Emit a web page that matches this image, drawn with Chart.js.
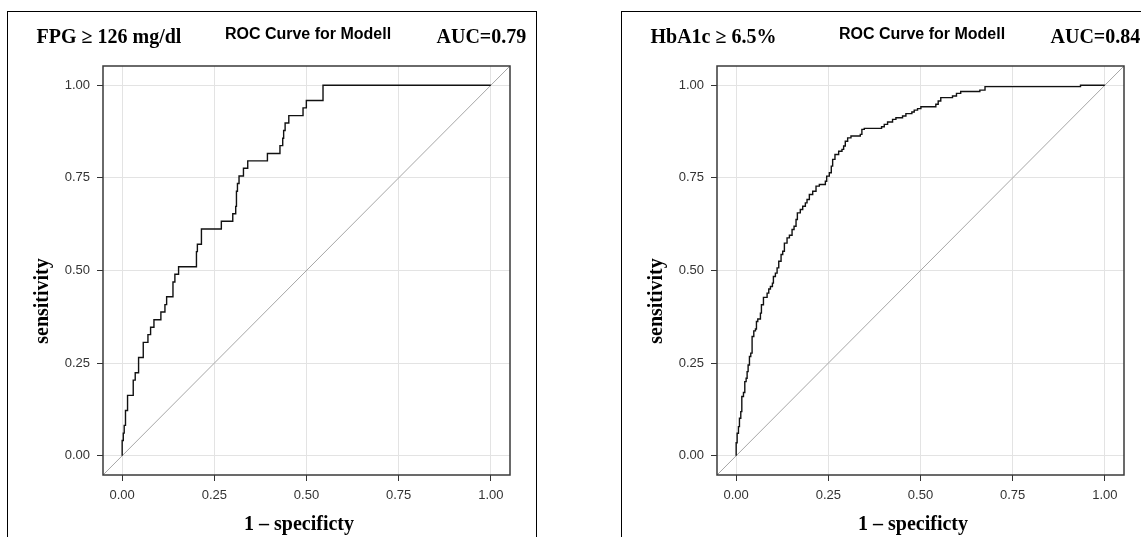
<!DOCTYPE html>
<html>
<head>
<meta charset="utf-8">
<script src="https://cdn.jsdelivr.net/npm/chart.js@4.4.1/dist/chart.umd.min.js"></script>
<style>
  html, body { margin: 0; padding: 0; background: #fff; }
  body { width: 1141px; height: 537px; overflow: hidden; position: relative; }
  .panel { position: absolute; top: 11px; width: 528px; height: 540px; border: 1px solid #000; overflow: hidden; background: #fff; }
  .plot { position: relative; width: 528px; height: 525px; }
</style>
</head>
<body>
<div class="panel" style="left:7px"><div class="plot"><canvas id="rocFpg"></canvas></div></div>
<div class="panel" style="left:621px"><div class="plot"><canvas id="rocHba"></canvas></div></div>
<script>
// ROC points (1 - specificity, sensitivity) for the FPG model
const fpgFpr = [0, 0, 0.003, 0.0055, 0.009, 0.0146, 0.030, 0.0354, 0.0445, 0.0572, 0.0699, 0.0771, 0.0862,
  0.105, 0.116, 0.1206, 0.1378, 0.143, 0.153, 0.2015, 0.204, 0.215, 0.269, 0.300, 0.308, 0.310, 0.3127,
  0.317, 0.329, 0.3406, 0.394, 0.428, 0.4355, 0.438, 0.442, 0.452, 0.4906, 0.4996, 0.5448, 1.0];
const fpgTpr = [0, 0.041, 0.061, 0.082, 0.122, 0.163, 0.204, 0.224, 0.265, 0.306, 0.327, 0.347, 0.367,
  0.388, 0.408, 0.429, 0.469, 0.490, 0.510, 0.551, 0.571, 0.612, 0.633, 0.653, 0.673, 0.714, 0.735,
  0.755, 0.776, 0.796, 0.816, 0.837, 0.857, 0.878, 0.898, 0.918, 0.939, 0.959, 1.0, 1.0];

// ROC points (1 - specificity, sensitivity) for the HbA1c model
const hbaFpr = [0, 0, 0.0026, 0.0062, 0.0089, 0.0125, 0.0153, 0.0198, 0.0234, 0.027, 0.0297, 0.0324, 0.036,
  0.0396, 0.0432, 0.0478, 0.0523, 0.055, 0.0586, 0.0658, 0.0685, 0.074, 0.0839, 0.0884, 0.0929, 0.0983,
  0.101, 0.1064, 0.111, 0.1155, 0.1218, 0.1263, 0.1308, 0.138, 0.1444, 0.1516, 0.157, 0.1624, 0.166,
  0.174, 0.1805, 0.1877, 0.1922, 0.1985, 0.2076, 0.2166, 0.2256, 0.2419, 0.2455, 0.2527, 0.258, 0.2617,
  0.268, 0.278, 0.287, 0.2915, 0.296, 0.3024, 0.3114, 0.3367, 0.341, 0.3475, 0.3944, 0.4017, 0.4107,
  0.4242, 0.4333, 0.4513, 0.4604, 0.4766, 0.483, 0.492, 0.501, 0.5416, 0.548, 0.555, 0.5868, 0.5976,
  0.609, 0.661, 0.675, 0.934, 1.0];
const hbaTpr = [0, 0.035, 0.0605, 0.0785, 0.101, 0.119, 0.160, 0.1705, 0.200, 0.209, 0.227, 0.245, 0.268,
  0.277, 0.322, 0.337, 0.342, 0.3625, 0.369, 0.385, 0.4076, 0.4275, 0.439, 0.450, 0.457, 0.466,
  0.484, 0.493, 0.507, 0.525, 0.543, 0.552, 0.574, 0.588, 0.595, 0.6105, 0.6195, 0.6375, 0.6556,
  0.6646, 0.6736, 0.6826, 0.6916, 0.705, 0.714, 0.7277, 0.732, 0.741, 0.7548, 0.7638, 0.7818, 0.800,
  0.813, 0.822, 0.827, 0.836, 0.849, 0.858, 0.863, 0.8675, 0.881, 0.8837, 0.888, 0.8945, 0.9008,
  0.908, 0.9125, 0.917, 0.9234, 0.928, 0.933, 0.937, 0.942, 0.9486, 0.9576, 0.9667, 0.971, 0.978,
  0.983, 0.987, 0.9964, 1.0, 1.0];

const tickValues = [0, 0.25, 0.5, 0.75, 1];
const axisRange = [-0.052, 1.052];
const panelLabels = ['FPG \u2265 126 mg/dl', 'HbA1c \u2265 6.5%'];
const aucValues = [0.79, 0.84];
const chartTitle = 'ROC Curve for Modell';
const xTitle = '1 \u2013 specificty';
const yTitle = 'sensitivity';

const SERIF = '"Liberation Serif", "Times New Roman", serif';
const SANS = '"Liberation Sans", Arial, sans-serif';

// Frame around the plot area plus the header and axis titles
const panelDecor = {
  id: 'panelDecor',
  afterDatasetsDraw(chart) {
    const { ctx, chartArea: a } = chart;
    ctx.save();
    ctx.strokeStyle = '#3a3a3a';
    ctx.lineWidth = 1.5;
    ctx.strokeRect(a.left, a.top, a.right - a.left, a.bottom - a.top);
    ctx.restore();
  },
  afterDraw(chart, args, opts) {
    const { ctx } = chart;
    ctx.save();
    ctx.fillStyle = '#000';
    ctx.textBaseline = 'alphabetic';

    ctx.font = 'bold 20px ' + SERIF;
    ctx.textAlign = 'left';
    ctx.fillText(opts.label, 28.5, 31);
    ctx.fillText('AUC=' + opts.auc.toFixed(2), 428.5, 31);

    ctx.font = 'bold 16px ' + SANS;
    ctx.textAlign = 'center';
    ctx.fillText(chartTitle, 300, 27);

    ctx.font = 'bold 20px ' + SERIF;
    ctx.textAlign = 'center';
    ctx.fillText(xTitle, 291, 518);

    ctx.translate(39.5, 289);
    ctx.rotate(-Math.PI / 2);
    ctx.fillText(yTitle, 0, 0);
    ctx.restore();
  }
};

function axisOptions(isX) {
  return {
    type: 'linear',
    min: axisRange[0],
    max: axisRange[1],
    afterBuildTicks(scale) { scale.ticks = tickValues.map(v => ({ value: v })); },
    afterFit(scale) { if (isX) { scale.height = 62; } else { scale.width = 95; } },
    grid: { color: '#e3e3e3', lineWidth: 1, tickColor: '#333', tickLength: 6, drawTicks: true },
    border: { display: false },
    ticks: {
      autoSkip: false, maxRotation: 0, padding: 7, color: '#333',
      font: { family: SANS, size: 13 },
      callback: v => Number(v).toFixed(2)
    }
  };
}

function makePanel(canvasId, fpr, tpr, label, auc) {
  const curve = fpr.map((x, i) => ({ x: x, y: tpr[i] }));
  const chance = axisRange.map(v => ({ x: v, y: v }));
  return new Chart(document.getElementById(canvasId), {
    type: 'line',
    data: {
      datasets: [
        { data: curve, stepped: 'before', borderColor: '#111', borderWidth: 1.4,
          pointRadius: 0, fill: false },
        { data: chance, borderColor: '#a6a6a6', borderWidth: 1, pointRadius: 0, fill: false }
      ]
    },
    options: {
      responsive: true,
      maintainAspectRatio: false,
      animation: false,
      devicePixelRatio: 1,
      layout: { padding: { left: 0, right: 26, top: 54, bottom: 0 } },
      plugins: {
        legend: { display: false },
        tooltip: { enabled: false },
        title: { display: false },
        panelDecor: { label: label, auc: auc }
      },
      scales: { x: axisOptions(true), y: axisOptions(false) }
    },
    plugins: [panelDecor]
  });
}

makePanel('rocFpg', fpgFpr, fpgTpr, panelLabels[0], aucValues[0]);
makePanel('rocHba', hbaFpr, hbaTpr, panelLabels[1], aucValues[1]);
</script>
</body>
</html>
